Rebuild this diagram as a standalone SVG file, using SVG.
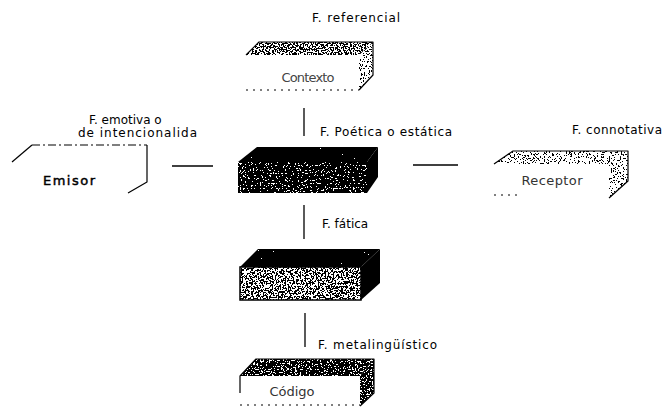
<svg xmlns="http://www.w3.org/2000/svg" width="667" height="407" viewBox="0 0 667 407">
<style>
  .lbl { font-family: "DejaVu Sans", "Liberation Sans", sans-serif; font-size: 12px; fill: #000; }
  .nt { font-family: "DejaVu Sans", "Liberation Sans", sans-serif; font-size: 13px; }
  .edge { stroke: #000; stroke-width: 1.3; fill: none; }
  .ol { stroke: #000; stroke-width: 1.2; fill: none; stroke-linejoin: round; }
  .dash { stroke: #000; stroke-width: 1; fill: none; stroke-dasharray: 2 5; }
</style>
<defs>
  <filter id="dLight" x="0" y="0" width="1" height="1">
    <feTurbulence type="fractalNoise" baseFrequency="0.65" numOctaves="2" seed="4" result="n"/>
    <feColorMatrix in="n" type="matrix" values="0 0 0 0 0  0 0 0 0 0  0 0 0 0 0  1 0 0 0 0" result="a"/>
    <feComponentTransfer in="a" result="t"><feFuncA type="discrete" tableValues="0 0 0 0 0 0 0 0 0 0 0 0 1 1 1 1 1 1 1 1"/></feComponentTransfer>
    <feComposite in="SourceGraphic" in2="t" operator="in"/>
  </filter>
  <filter id="dMid" x="0" y="0" width="1" height="1">
    <feTurbulence type="fractalNoise" baseFrequency="0.65" numOctaves="2" seed="7" result="n"/>
    <feColorMatrix in="n" type="matrix" values="0 0 0 0 0  0 0 0 0 0  0 0 0 0 0  1 0 0 0 0" result="a"/>
    <feComponentTransfer in="a" result="t"><feFuncA type="discrete" tableValues="0 0 0 0 0 0 0 0 0 0 1 1 1 1 1 1 1 1 1 1"/></feComponentTransfer>
    <feComposite in="SourceGraphic" in2="t" operator="in"/>
  </filter>
  <filter id="dDark" x="0" y="0" width="1" height="1">
    <feTurbulence type="fractalNoise" baseFrequency="0.65" numOctaves="2" seed="11" result="n"/>
    <feColorMatrix in="n" type="matrix" values="0 0 0 0 0  0 0 0 0 0  0 0 0 0 0  1 0 0 0 0" result="a"/>
    <feComponentTransfer in="a" result="t"><feFuncA type="discrete" tableValues="0 0 0 0 0 0 0 0 1 1 1 1 1 1 1 1 1 1 1 1"/></feComponentTransfer>
    <feComposite in="SourceGraphic" in2="t" operator="in"/>
  </filter>
  <filter id="wFew" x="0" y="0" width="1" height="1">
    <feTurbulence type="fractalNoise" baseFrequency="0.7" numOctaves="2" seed="3" result="n"/>
    <feColorMatrix in="n" type="matrix" values="0 0 0 0 0  0 0 0 0 0  0 0 0 0 0  1 0 0 0 0" result="a"/>
    <feComponentTransfer in="a" result="t"><feFuncA type="discrete" tableValues="0 0 0 0 0 0 0 0 0 0 0 0 0 0 0 0 1 1 1 1"/></feComponentTransfer>
    <feComposite in="SourceGraphic" in2="t" operator="in"/>
  </filter>
  <filter id="wMany" x="0" y="0" width="1" height="1">
    <feTurbulence type="fractalNoise" baseFrequency="0.6" numOctaves="2" seed="5" result="n"/>
    <feColorMatrix in="n" type="matrix" values="0 0 0 0 0  0 0 0 0 0  0 0 0 0 0  1 0 0 0 0" result="a"/>
    <feComponentTransfer in="a" result="t"><feFuncA type="discrete" tableValues="0 0 0 0 0 0 0 0 0 0 0 0 0 1 1 1 1 1 1 1"/></feComponentTransfer>
    <feComposite in="SourceGraphic" in2="t" operator="in"/>
  </filter>
  <filter id="wMott" x="0" y="0" width="1" height="1">
    <feTurbulence type="fractalNoise" baseFrequency="0.6" numOctaves="2" seed="9" result="n"/>
    <feColorMatrix in="n" type="matrix" values="0 0 0 0 0  0 0 0 0 0  0 0 0 0 0  1 0 0 0 0" result="a"/>
    <feComponentTransfer in="a" result="t"><feFuncA type="discrete" tableValues="0 0 0 0 0 0 0 0 0 0 1 1 1 1 1 1 1 1 1 1"/></feComponentTransfer>
    <feComposite in="SourceGraphic" in2="t" operator="in"/>
  </filter>
</defs>

<g id="connectors">
  <line class="edge" x1="304" y1="108" x2="304" y2="136"/>
  <line class="edge" x1="304" y1="205" x2="304" y2="239"/>
  <line class="edge" x1="305" y1="313" x2="305" y2="347"/>
  <line class="edge" x1="172" y1="166" x2="213" y2="166"/>
  <line class="edge" x1="413" y1="165" x2="458" y2="165"/>
  <text class="lbl" x="312" y="22" textLength="88">F. referencial</text>
  <text class="lbl" x="89" y="124">F. emotiva o</text>
  <text class="lbl" x="78" y="137" textLength="119">de intencionalida</text>
  <text class="lbl" x="320" y="136" textLength="132">F. Poética o estática</text>
  <text class="lbl" x="572" y="134" textLength="90">F. connotativa</text>
  <text class="lbl" x="322" y="228">F. fática</text>
  <text class="lbl" x="318" y="349" textLength="119">F. metalingüístico</text>
</g>

<g id="contexto">
  <polygon points="246,55 259,42 373,42 359,55" fill="#000" filter="url(#dMid)"/>
  <polygon points="359,55 373,42 373,75 359,90" fill="#000" filter="url(#dLight)"/>
  <path class="ol" d="M246,55 L259,42 L373,42 L373,75 L359,90"/>
  <line class="dash" x1="246" y1="90" x2="359" y2="90"/>
  <text class="nt" x="308" y="82" text-anchor="middle" fill="#444" textLength="53">Contexto</text>
</g>

<g id="emisor">
  <path class="ol" d="M12,162 L32,145"/>
  <path d="M32,145 L147,145" stroke="#000" stroke-width="1.2" stroke-dasharray="8 3 2 3"/>
  <path class="ol" d="M147,145 L147,182 L128,193"/>
  <text class="nt" x="69" y="185" text-anchor="middle" fill="#000" font-size="14.5" stroke="#000" stroke-width="0.45" textLength="52">Emisor</text>
</g>

<g id="mensaje">
  <polygon points="238,162 257,147 378,147 367,162" fill="#000"/>
  <polygon points="238,162 257,147 378,147 367,162" fill="#fff" filter="url(#wFew)"/>
  <rect x="238" y="162" width="129" height="31" fill="#000"/>
  <rect x="238" y="162" width="129" height="31" fill="#fff" filter="url(#wMany)"/>
  <polygon points="367,162 378,147 378,177 367,193" fill="#000"/>
</g>

<g id="receptor">
  <polygon points="494,164 513,151 628,151 609,164" fill="#000" filter="url(#dLight)"/>
  <polygon points="609,164 628,151 628,181 609,198" fill="#000" filter="url(#dLight)"/>
  <path class="ol" d="M494,164 L513,151 L628,151 L628,181 L609,198"/>
  <line class="dash" x1="494" y1="195" x2="522" y2="195"/>
  <text class="nt" x="552" y="185" text-anchor="middle" fill="#333" textLength="61">Receptor</text>
</g>

<g id="canal">
  <polygon points="240,267 258,249 380,249 361,267" fill="#000"/>
  <polygon points="240,267 258,249 380,249 361,267" fill="#fff" filter="url(#wFew)"/>
  <rect x="240" y="267" width="121" height="33" fill="#000"/>
  <rect x="240" y="267" width="121" height="33" fill="#fff" filter="url(#wMott)"/>
  <rect x="240" y="267" width="121" height="33" fill="none" stroke="#000" stroke-width="1.5"/>
  <polygon points="361,267 380,249 380,283 361,300" fill="#000"/>
</g>

<g id="codigo">
  <polygon points="240,376 256,359 374,359 360,376" fill="#000" filter="url(#dDark)"/>
  <polygon points="360,376 374,359 374,393 360,406" fill="#000" filter="url(#dDark)"/>
  <path class="ol" d="M240,393 L240,376 L256,359 L374,359 L374,393 L360,406"/>
  <line class="dash" x1="240" y1="405" x2="360" y2="405"/>
  <text class="nt" x="292" y="396" text-anchor="middle" fill="#333" textLength="45">Código</text>
</g>
</svg>
